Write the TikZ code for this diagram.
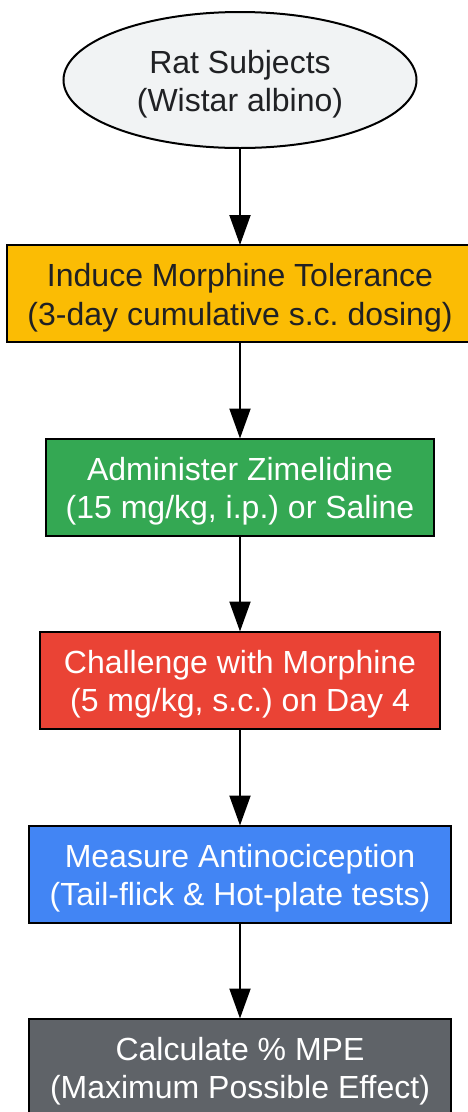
\documentclass[tikz,border=0pt]{standalone}
\usepackage{fontspec}
\setmainfont{Liberation Sans}
\usetikzlibrary{shapes.geometric,arrows.meta}
\definecolor{gyellow}{HTML}{FBBC04}
\definecolor{ggreen}{HTML}{34A853}
\definecolor{gred}{HTML}{EA4335}
\definecolor{gblue}{HTML}{4285F4}
\definecolor{ggray}{HTML}{5F6368}
\definecolor{glight}{HTML}{F1F3F4}
\definecolor{gdark}{HTML}{202124}
\frenchspacing
\begin{document}
\begin{tikzpicture}[x=1pt,y=-1pt,
  lbl/.style={font=\fontsize{32}{38.4}\selectfont\frenchspacing, align=center, inner sep=0pt, outer sep=0pt,
    text height=70pt, text depth=7pt},
  stepbox/.style={lbl, rectangle, draw=black, line width=2pt, minimum height=97pt},
  startnode/.style={lbl, ellipse, draw=black, line width=2pt, fill=glight, text=gdark,
    minimum width=353pt, minimum height=136pt},
  flow/.style={draw=black, line width=2pt, -{Triangle[length=30pt,width=21pt]}}]
\useasboundingbox (0,0) rectangle (467,1112);
\node[startnode] (rat) at (240,80) {Rat Subjects\\(Wistar albino)};
\node[stepbox, fill=gyellow, text=gdark, minimum width=466pt] (tol) at (240,293.5)
  {Induce Morphine Tolerance\\(3-day cumulative s.c. dosing)};
\node[stepbox, fill=ggreen, text=white, minimum width=388pt] (zim) at (240,487)
  {Administer Zimelidine\\(15 mg/kg, i.p.) or Saline};
\node[stepbox, fill=gred, text=white, minimum width=400pt] (chal) at (240,680)
  {Challenge with Morphine\\(5 mg/kg, s.c.) on Day 4};
\node[stepbox, fill=gblue, text=white, minimum width=422pt] (meas) at (240,874)
  {Measure Antinociception\\(Tail-flick \& Hot-plate tests)};
\node[stepbox, fill=ggray, text=white, minimum width=422pt] (mpe) at (240,1067)
  {Calculate \% MPE\\(Maximum Possible Effect)};
\draw[flow] (rat) -- (tol);
\draw[flow] (tol) -- (zim);
\draw[flow] (zim) -- (chal);
\draw[flow] (chal) -- (meas);
\draw[flow] (meas) -- (mpe);
\end{tikzpicture}
\end{document}
